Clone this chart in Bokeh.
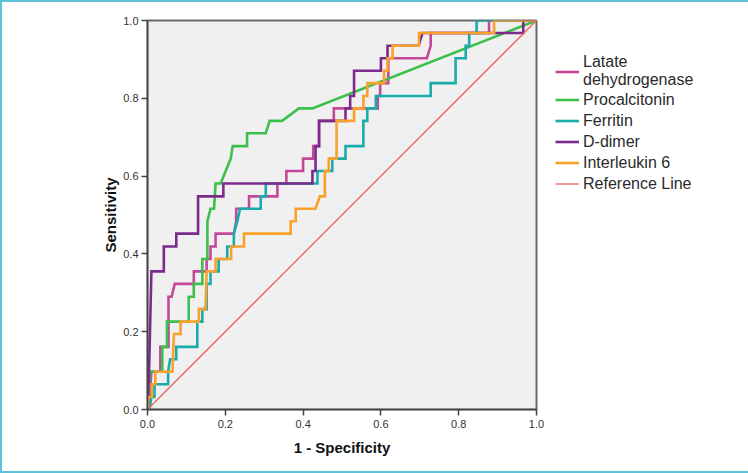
from bokeh.plotting import figure
from bokeh.models import Range1d, Legend, LegendItem, FixedTicker, PrintfTickFormatter
from bokeh.embed import file_html
from bokeh.resources import INLINE

# ---- data ----
series_names = ["Latate\ndehydrogenase", "Procalcitonin", "Ferritin", "D-dimer", "Interleukin 6"]
series_colors = ["#c4489a", "#3dbf4b", "#18acab", "#7b2b8c", "#f9a12a"]

ldh_fpr = [0, 0.006, 0.01, 0.033, 0.033, 0.054, 0.054, 0.062, 0.07, 0.119, 0.119, 0.152, 0.152, 0.162, 0.162,
           0.175, 0.175, 0.222, 0.228, 0.228, 0.261, 0.261, 0.334, 0.334, 0.357, 0.357, 0.40, 0.40, 0.426, 0.426,
           0.441, 0.441, 0.479, 0.479, 0.592, 0.592, 0.598, 0.598, 0.619, 0.619, 0.718, 0.728, 0.728, 0.878, 0.878, 1.0]
ldh_tpr = [0, 0.032, 0.097, 0.097, 0.161, 0.161, 0.290, 0.290, 0.323, 0.323, 0.355, 0.355, 0.387, 0.387, 0.419,
           0.419, 0.452, 0.452, 0.484, 0.516, 0.516, 0.548, 0.548, 0.581, 0.581, 0.613, 0.613, 0.645, 0.645, 0.677,
           0.677, 0.742, 0.742, 0.774, 0.774, 0.806, 0.806, 0.839, 0.839, 0.903, 0.903, 0.935, 0.968, 0.968, 1.0, 1.0]

pct_fpr = [0, 0.006, 0.038, 0.038, 0.05, 0.05, 0.106, 0.106, 0.119, 0.119, 0.141, 0.141, 0.154, 0.154, 0.162,
           0.171, 0.175, 0.188, 0.201, 0.214, 0.219, 0.256, 0.256, 0.304, 0.314, 0.346, 0.389, 0.424, 1.0]
pct_tpr = [0, 0.097, 0.097, 0.161, 0.161, 0.226, 0.226, 0.290, 0.290, 0.323, 0.323, 0.387, 0.387, 0.484, 0.516,
           0.516, 0.581, 0.581, 0.613, 0.645, 0.677, 0.677, 0.710, 0.710, 0.742, 0.742, 0.774, 0.774, 1.0]

fer_fpr = [0, 0.005, 0.01, 0.018, 0.018, 0.053, 0.053, 0.058, 0.074, 0.074, 0.128, 0.128, 0.141, 0.141, 0.152,
           0.152, 0.162, 0.162, 0.183, 0.183, 0.205, 0.205, 0.222, 0.222, 0.231, 0.238, 0.291, 0.291, 0.304, 0.304,
           0.437, 0.437, 0.475, 0.475, 0.509, 0.509, 0.555, 0.555, 0.565, 0.565, 0.587, 0.587, 0.728, 0.728, 0.792,
           0.792, 0.818, 0.818, 0.827, 0.827, 0.846, 0.846, 1.0]
fer_tpr = [0, 0, 0.032, 0.032, 0.065, 0.065, 0.097, 0.129, 0.129, 0.161, 0.161, 0.226, 0.226, 0.258, 0.258,
           0.323, 0.323, 0.355, 0.355, 0.387, 0.387, 0.419, 0.419, 0.452, 0.484, 0.516, 0.516, 0.548, 0.548, 0.581,
           0.581, 0.613, 0.613, 0.645, 0.645, 0.677, 0.677, 0.742, 0.742, 0.774, 0.774, 0.806, 0.806, 0.839, 0.839,
           0.903, 0.903, 0.935, 0.935, 0.968, 0.968, 1.0, 1.0]

dd_fpr = [0, 0.004, 0.01, 0.042, 0.042, 0.074, 0.074, 0.130, 0.130, 0.195, 0.195, 0.424, 0.424, 0.432, 0.432,
          0.441, 0.441, 0.509, 0.509, 0.521, 0.521, 0.531, 0.531, 0.600, 0.600, 0.617, 0.617, 0.697, 0.707, 0.966,
          0.966, 1.0]
dd_tpr = [0, 0.097, 0.355, 0.355, 0.419, 0.419, 0.452, 0.452, 0.548, 0.548, 0.581, 0.581, 0.613, 0.613, 0.677,
          0.677, 0.742, 0.742, 0.774, 0.774, 0.806, 0.806, 0.871, 0.871, 0.903, 0.903, 0.935, 0.935, 0.968, 0.968,
          1.0, 1.0]

il6_fpr = [0, 0.002, 0.011, 0.011, 0.02, 0.02, 0.064, 0.068, 0.085, 0.085, 0.132, 0.132, 0.149, 0.152, 0.175,
           0.175, 0.215, 0.215, 0.248, 0.248, 0.368, 0.368, 0.381, 0.381, 0.432, 0.443, 0.456, 0.456, 0.466, 0.466,
           0.486, 0.486, 0.531, 0.531, 0.555, 0.555, 0.565, 0.565, 0.608, 0.608, 0.617, 0.617, 0.630, 0.630, 0.698,
           0.698, 0.891, 0.891, 1.0]
il6_tpr = [0, 0.032, 0.032, 0.065, 0.065, 0.097, 0.097, 0.194, 0.194, 0.226, 0.226, 0.258, 0.258, 0.355, 0.355,
           0.387, 0.387, 0.419, 0.419, 0.452, 0.452, 0.484, 0.484, 0.516, 0.516, 0.548, 0.548, 0.613, 0.613, 0.645,
           0.645, 0.742, 0.742, 0.774, 0.774, 0.806, 0.806, 0.839, 0.839, 0.871, 0.871, 0.903, 0.903, 0.935, 0.935,
           0.968, 0.968, 1.0, 1.0]

ref_x = [0.0, 1.0]
ref_y = [0.0, 1.0]
ref_name = "Reference Line"
ref_color = "#f25e5e"

tick_values = [0.0, 0.2, 0.4, 0.6, 0.8, 1.0]
x_title = "1 - Specificity"
y_title = "Sensitivity"

FONT = "Liberation Sans"

p = figure(frame_width=389, frame_height=389, output_backend="svg", toolbar_location=None,
           x_range=Range1d(0, 1), y_range=Range1d(0, 1),
           min_border_left=145, min_border_right=210, min_border_top=18, min_border_bottom=62)
p.styles = {"border": "2px solid #5cc3d8"}

p.background_fill_color = "#f0f0f0"
p.border_fill_color = "white"
p.outline_line_color = "#6a6a6a"
p.outline_line_width = 2
p.grid.visible = False

for ax in (p.xaxis[0], p.yaxis[0]):
    ax.ticker = FixedTicker(ticks=tick_values)
    ax.formatter = PrintfTickFormatter(format="%.1f")
    ax.minor_tick_line_color = None
    ax.major_tick_in = 0
    ax.major_tick_out = 6
    ax.major_tick_line_color = "#444444"
    ax.major_tick_line_width = 1.5
    ax.axis_line_color = "#444444"
    ax.axis_line_width = 1.5
    ax.major_label_text_font = FONT
    ax.major_label_text_font_size = "11px"
    ax.major_label_text_color = "#333333"
    ax.axis_label_text_font = FONT
    ax.axis_label_text_font_size = "15px"
    ax.axis_label_text_font_style = "bold"
    ax.axis_label_text_color = "#111111"

p.xaxis.axis_label = x_title
p.yaxis.axis_label = y_title
p.xaxis.major_label_standoff = 4
p.yaxis.major_label_standoff = 3
p.xaxis.axis_label_standoff = 8
p.yaxis.axis_label_standoff = 1

all_fpr = [ldh_fpr, pct_fpr, fer_fpr, dd_fpr, il6_fpr]
all_tpr = [ldh_tpr, pct_tpr, fer_tpr, dd_tpr, il6_tpr]

items = []
for name, color, xs, ys in zip(series_names, series_colors, all_fpr, all_tpr):
    r = p.line(xs, ys, line_color=color, line_width=2.6, line_join="miter")
    items.append(LegendItem(label=name, renderers=[r]))
rr = p.line(ref_x, ref_y, line_color=ref_color, line_width=1.3)
items.append(LegendItem(label=ref_name, renderers=[rr]))

legend = Legend(items=items, location=(19, 215), padding=0, margin=0, spacing=0,
                glyph_width=24, glyph_height=21, label_height=21, label_standoff=4,
                label_text_font=FONT, label_text_font_size="16px", label_text_color="#2a2a2a",
                label_text_line_height=1.1,
                border_line_alpha=0, background_fill_alpha=0)
p.add_layout(legend, "right")

open("out.html", "w").write(file_html(p, INLINE))
